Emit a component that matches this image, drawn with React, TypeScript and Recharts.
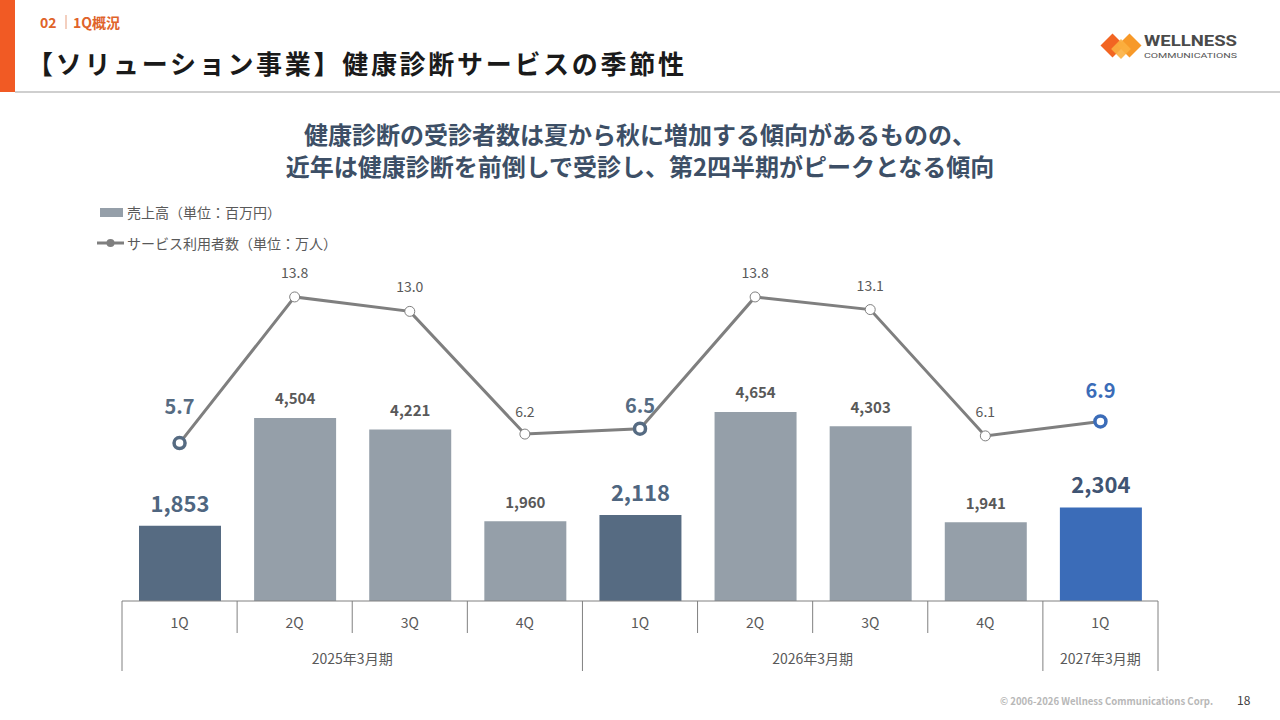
import React from 'react';
import { ComposedChart, Bar, Line, XAxis, YAxis, Cell, LabelList } from 'recharts';

const quarters = ['1Q', '2Q', '3Q', '4Q', '1Q', '2Q', '3Q', '4Q', '1Q'];
const fiscalYears = [
  '2025年3月期', '2025年3月期', '2025年3月期', '2025年3月期',
  '2026年3月期', '2026年3月期', '2026年3月期', '2026年3月期',
  '2027年3月期',
];
const sales = [1853, 4504, 4221, 1960, 2118, 4654, 4303, 1941, 2304];
const users = [5.7, 13.8, 13.0, 6.2, 6.5, 13.8, 13.1, 6.1, 6.9];

const data = quarters.map((q, i) => ({
  key: `${fiscalYears[i]}-${q}`,
  quarter: q,
  fy: fiscalYears[i],
  sales: sales[i],
  users: users[i],
}));

const FONT = '"Noto Sans CJK JP", "Noto Sans", sans-serif';
const LOGO_FONT = 'Roboto, "Noto Sans", sans-serif';
const W = 1280;
const H = 720;
const PLOT_LEFT = 122;
const PLOT_RIGHT = 1158;
const PLOT_TOP = 241;
const PLOT_BOTTOM = 601;
const BAND = (PLOT_RIGHT - PLOT_LEFT) / quarters.length;

const DARK = '#566b82';
const GRAY_BAR = '#959fa9';
const BLUE = '#3b6cb8';
const LINE = '#7f7f7f';
const TEXT = '#595959';

const kindOf = (i: number) => {
  if (i === quarters.length - 1) return 'current';
  if (quarters[i] === '1Q') return 'first';
  return 'normal';
};

const barColor = (i: number) => {
  const k = kindOf(i);
  return k === 'current' ? BLUE : k === 'first' ? DARK : GRAY_BAR;
};

const lineLabelDy = [38, 25, 25, 23, 24, 25, 25, 25, 32];

function AxisTick(props: any) {
  const { x, y, payload } = props;
  const i = data.findIndex((d) => d.key === payload.value);
  if (i < 0) return null;
  const left = x - BAND / 2;
  const groupStart = i === 0 || fiscalYears[i] !== fiscalYears[i - 1];
  let n = 1;
  if (groupStart) {
    while (i + n < fiscalYears.length && fiscalYears[i + n] === fiscalYears[i]) n++;
  }
  return (
    <g>
      <line x1={left} x2={left} y1={y} y2={y + (groupStart ? 70 : 32)} stroke="#808080" strokeWidth={1} />
      {i === quarters.length - 1 && (
        <line x1={x + BAND / 2} x2={x + BAND / 2} y1={y} y2={y + 70} stroke="#808080" strokeWidth={1} />
      )}
      <text x={x} y={y + 21} textAnchor="middle" dominantBaseline="central" fontSize={14} fill={TEXT} fontFamily={FONT}>
        {quarters[i]}
      </text>
      {groupStart && (
        <text x={left + (n * BAND) / 2} y={y + 57} textAnchor="middle" dominantBaseline="central" fontSize={14} fill={TEXT} fontFamily={FONT}>
          {fiscalYears[i]}
        </text>
      )}
    </g>
  );
}

function BarLabel(props: any) {
  const { x, y, width, value, index } = props;
  const k = kindOf(index);
  const big = k !== 'normal';
  const fill = k === 'current' ? '#3f5473' : k === 'first' ? '#4f6680' : TEXT;
  return (
    <text
      x={x + width / 2}
      y={y - (big ? 24 : 20)}
      textAnchor="middle"
      dominantBaseline="central"
      fontSize={big ? 22 : 15}
      fontWeight={700}
      fill={fill}
      fontFamily={FONT}
    >
      {Number(value).toLocaleString('en-US')}
    </text>
  );
}

function LineLabel(props: any) {
  const { x, y, value, index } = props;
  const k = kindOf(index);
  const big = k !== 'normal';
  const fill = k === 'current' ? BLUE : k === 'first' ? DARK : TEXT;
  return (
    <text
      x={x}
      y={y - lineLabelDy[index]}
      textAnchor="middle"
      dominantBaseline="central"
      fontSize={big ? 20 : 14}
      fontWeight={big ? 700 : 400}
      fill={fill}
      fontFamily={FONT}
    >
      {Number(value).toFixed(1)}
    </text>
  );
}

function LineDot(props: any) {
  const { cx, cy, index } = props;
  const k = kindOf(index);
  if (k === 'normal') {
    return <circle key={index} cx={cx} cy={cy} r={5} fill="#ffffff" stroke={LINE} strokeWidth={1} />;
  }
  return (
    <circle key={index} cx={cx} cy={cy} r={5.5} fill="#ffffff" stroke={k === 'current' ? BLUE : DARK} strokeWidth={3.5} />
  );
}

function Overlay() {
  return (
    <svg width={W} height={H} style={{ position: 'absolute', left: 0, top: 0, pointerEvents: 'none' }} fontFamily={FONT}>
      {/* header */}
      <rect x={0} y={0} width={15} height={92} fill="#f15a24" />
      <rect x={15} y={91} width={W - 15} height={2} fill="#cfcfcf" />
      <text x={40} y={22} dominantBaseline="central" fontSize={14} fontWeight={700} fill="#e0632a">02</text>
      <rect x={65.5} y={15} width={1} height={14} fill="#e8a080" />
      <text x={73} y={22} dominantBaseline="central" fontSize={14} fontWeight={700} fill="#e0632a">1Q概況</text>
      <text x={27} y={62} dominantBaseline="central" fontSize={26} fontWeight={700} fill="#1a1a1a" letterSpacing={2.7}>
        【ソリューション事業】健康診断サービスの季節性
      </text>
      {/* logo */}
      <g>
        <rect x={1104} y={37} width={17} height={17} transform="rotate(45 1112.5 45.5)" fill="#f26522" />
        <rect x={1121} y={37} width={17} height={17} transform="rotate(45 1129.5 45.5)" fill="#f7941d" opacity={0.95} />
        <rect x={1114} y={42} width={14} height={14} transform="rotate(45 1121 49)" fill="#fbb040" opacity={0.9} />
      </g>
      <text x={1144} y={40.5} dominantBaseline="central" fontFamily={LOGO_FONT} fontSize={15} fontWeight={700} fill="#4a4a4a" textLength={93} lengthAdjust="spacingAndGlyphs">WELLNESS</text>
      <text x={1144} y={55} dominantBaseline="central" fontFamily={LOGO_FONT} fontSize={8} fill="#555555" textLength={93} lengthAdjust="spacingAndGlyphs">COMMUNICATIONS</text>
      {/* subtitle */}
      <text x={640} y={133} textAnchor="middle" dominantBaseline="central" fontSize={24} fontWeight={700} fill="#3d4f66">
        健康診断の受診者数は夏から秋に増加する傾向があるものの、
      </text>
      <text x={640} y={165} textAnchor="middle" dominantBaseline="central" fontSize={24} fontWeight={700} fill="#3d4f66">
        近年は健康診断を前倒しで受診し、第2四半期がピークとなる傾向
      </text>
      {/* legend */}
      <rect x={100} y={208} width={23} height={9} fill={GRAY_BAR} />
      <text x={127} y={212} dominantBaseline="central" fontSize={14} fill={TEXT}>売上高（単位：百万円）</text>
      <line x1={97} x2={124} y1={243} y2={243} stroke={LINE} strokeWidth={3} />
      <circle cx={110.5} cy={243} r={4} fill={LINE} />
      <text x={127} y={243} dominantBaseline="central" fontSize={14} fill={TEXT}>サービス利用者数（単位：万人）</text>
      {/* footer */}
      <text x={1213} y={700} textAnchor="end" dominantBaseline="central" fontSize={10} fontWeight={700} fill="#b8b8b8" textLength={213} lengthAdjust="spacingAndGlyphs">© 2006-2026 Wellness Communications Corp.</text>
      <text x={1237} y={699} dominantBaseline="central" fontSize={12} fill="#404040">18</text>
    </svg>
  );
}

export default function App() {
  return (
    <div style={{ position: 'absolute', left: 0, top: 0, width: W, height: H, background: '#ffffff', overflow: 'hidden', fontFamily: FONT }}>
      <Overlay />
      <div style={{ position: 'absolute', left: 0, top: 0 }}>
        <ComposedChart
          width={W}
          height={H}
          data={data}
          margin={{ top: PLOT_TOP, right: W - PLOT_RIGHT, bottom: 0, left: PLOT_LEFT }}
        >
          <XAxis
            dataKey="key"
            interval={0}
            height={H - PLOT_BOTTOM}
            tickSize={0}
            tickMargin={0}
            tickLine={false}
            axisLine={{ stroke: '#808080', strokeWidth: 1 }}
            tick={<AxisTick />}
          />
          <YAxis yAxisId="bar" hide domain={[0, 8860]} />
          <YAxis yAxisId="line" hide orientation="right" domain={[-3.05, 16.9]} />
          <Bar yAxisId="bar" dataKey="sales" barSize={82} isAnimationActive={false}>
            {data.map((_, i) => (
              <Cell key={i} fill={barColor(i)} />
            ))}
            <LabelList dataKey="sales" content={<BarLabel />} />
          </Bar>
          <Line
            yAxisId="line"
            type="linear"
            dataKey="users"
            stroke={LINE}
            strokeWidth={3}
            dot={<LineDot />}
            activeDot={false}
            isAnimationActive={false}
          >
            <LabelList dataKey="users" content={<LineLabel />} />
          </Line>
        </ComposedChart>
      </div>
    </div>
  );
}
